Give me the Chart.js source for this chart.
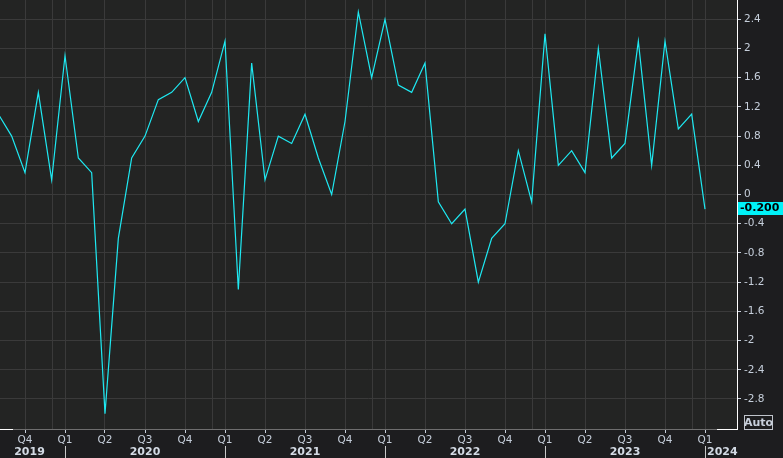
<!DOCTYPE html>
<html>
<head>
<meta charset="utf-8">
<script src="https://cdn.jsdelivr.net/npm/chart.js@4.4.1/dist/chart.umd.min.js"></script>
<style>
html, body { margin: 0; padding: 0; background: #1d1d1f; overflow: hidden; }
canvas { display: block; }
</style>
</head>
<body>
<canvas id="chart" width="783" height="458"></canvas>
<script>
// Monthly values, Aug 2019 .. Jan 2024
const months = [
    '2019-08', '2019-09', '2019-10', '2019-11', '2019-12',
    '2020-01', '2020-02', '2020-03', '2020-04', '2020-05', '2020-06',
    '2020-07', '2020-08', '2020-09', '2020-10', '2020-11', '2020-12',
    '2021-01', '2021-02', '2021-03', '2021-04', '2021-05', '2021-06',
    '2021-07', '2021-08', '2021-09', '2021-10', '2021-11', '2021-12',
    '2022-01', '2022-02', '2022-03', '2022-04', '2022-05', '2022-06',
    '2022-07', '2022-08', '2022-09', '2022-10', '2022-11', '2022-12',
    '2023-01', '2023-02', '2023-03', '2023-04', '2023-05', '2023-06',
    '2023-07', '2023-08', '2023-09', '2023-10', '2023-11', '2023-12',
    '2024-01'
];
const values = [
    1.1, 0.8, 0.3, 1.4, 0.2,
    1.9, 0.5, 0.3, -3.0, -0.6, 0.5,
    0.8, 1.3, 1.4, 1.6, 1.0, 1.4,
    2.1, -1.3, 1.8, 0.2, 0.8, 0.7,
    1.1, 0.5, 0.0, 1.0, 2.5, 1.6,
    2.4, 1.5, 1.4, 1.8, -0.1, -0.4,
    -0.2, -1.2, -0.6, -0.4, 0.6, -0.1,
    2.2, 0.4, 0.6, 0.3, 2.0, 0.5,
    0.7, 2.1, 0.4, 2.1, 0.9, 1.1,
    -0.2
];
const yTicks = [2.4, 2, 1.6, 1.2, 0.8, 0.4, 0, -0.4, -0.8, -1.2, -1.6, -2, -2.4, -2.8];
const years = ['2019', '2020', '2021', '2022', '2023', '2024'];
const lastLabel = '-0.200';

const fontFamily = "'DejaVu Sans', Verdana, sans-serif";
const textColor = '#c6cfdb';
const gridColor = '#3a3a3a';
const lineColor = '#1ee9f2';

// quarter ticks sit on Jan/Apr/Jul/Oct
const quarterIdx = [];
const quarterLabels = [];
months.forEach((m, i) => {
    const mm = parseInt(m.slice(5), 10);
    if ((mm - 1) % 3 === 0) {
        quarterIdx.push(i);
        quarterLabels.push('Q' + ((mm - 1) / 3 + 1));
    }
});
const decIdx = months.map((m, i) => m.endsWith('-12') ? i : -1).filter(i => i >= 0);

const decorations = {
    id: 'decorations',
    beforeDraw(chart) {
        const { ctx, chartArea: a } = chart;
        ctx.save();
        ctx.fillStyle = '#1d1d1f';
        ctx.fillRect(0, 0, chart.width, chart.height);
        ctx.fillStyle = '#232423';
        ctx.fillRect(a.left, a.top, a.right - a.left, a.bottom - a.top);
        ctx.restore();
    },
    beforeDatasetsDraw(chart) {
        // extra grid line on each December
        const { ctx, chartArea: a, scales: { x } } = chart;
        ctx.save();
        ctx.strokeStyle = gridColor;
        ctx.lineWidth = 1;
        decIdx.forEach(i => {
            const px = Math.round(x.getPixelForValue(i)) + 0.5;
            ctx.beginPath();
            ctx.moveTo(px, a.top);
            ctx.lineTo(px, a.bottom);
            ctx.stroke();
        });
        ctx.restore();
    },
    afterDraw(chart) {
        const { ctx, chartArea: a, scales: { x, y } } = chart;
        ctx.save();

        // year labels and separators
        ctx.font = 'bold 11px ' + fontFamily;
        ctx.fillStyle = '#d3dae4';
        ctx.textBaseline = 'middle';
        years.forEach((yr, k) => {
            const idx = months.map((m, i) => m.startsWith(yr) ? i : -1).filter(i => i >= 0);
            const first = idx[0], last = idx[idx.length - 1];
            const x0 = Math.max(a.left, x.getPixelForValue(first));
            if (k === years.length - 1) {
                ctx.textAlign = 'left';
                ctx.fillText(yr, x0 + 2, 452);
            } else {
                const x1 = Math.min(a.right, x.getPixelForValue(last + 1));
                ctx.textAlign = 'center';
                ctx.fillText(yr, (x0 + x1) / 2 - (k === 0 ? 3 : 0), 452);
            }
            if (months[first].endsWith('-01')) {
                const px = Math.round(x.getPixelForValue(first)) + 0.5;
                ctx.strokeStyle = '#c8c8c8';
                ctx.lineWidth = 1;
                ctx.beginPath();
                ctx.moveTo(px, 446);
                ctx.lineTo(px, 458);
                ctx.stroke();
            }
        });

        // white ends of the bottom axis
        ctx.strokeStyle = '#ffffff';
        ctx.lineWidth = 1;
        ctx.beginPath();
        ctx.moveTo(a.left, a.bottom + 0.5);
        ctx.lineTo(a.left + 13, a.bottom + 0.5);
        ctx.moveTo(a.right - 20, a.bottom + 0.5);
        ctx.lineTo(a.right + 0.5, a.bottom + 0.5);
        ctx.stroke();

        // last value tag
        const vy = y.getPixelForValue(values[values.length - 1]);
        ctx.fillStyle = '#00f2f8';
        ctx.fillRect(a.right + 1, Math.round(vy) - 7, chart.width - a.right - 1, 13);
        ctx.fillStyle = '#000000';
        ctx.textAlign = 'left';
        ctx.font = 'bold 11px ' + fontFamily;
        ctx.fillText(lastLabel, a.right + 3, Math.round(vy) - 0.5);

        // Auto button
        ctx.strokeStyle = '#c0c4cc';
        ctx.strokeRect(744.5, 415.5, 28, 14);
        ctx.fillStyle = '#c9d0dc';
        ctx.font = 'bold 11px ' + fontFamily;
        ctx.textAlign = 'center';
        ctx.fillText('Auto', 758.5, 423);
        ctx.restore();
    }
};

new Chart(document.getElementById('chart'), {
    type: 'line',
    data: {
        datasets: [{
            data: values.map((v, i) => ({ x: i, y: v })),
            borderColor: lineColor,
            borderWidth: 1.2,
            pointRadius: 0,
            tension: 0,
            fill: false
        }]
    },
    options: {
        responsive: false,
        animation: false,
        layout: { padding: 0 },
        plugins: {
            legend: { display: false },
            tooltip: { enabled: false }
        },
        scales: {
            x: {
                type: 'linear',
                min: 0.125,
                max: 55.4,
                afterBuildTicks: s => { s.ticks = quarterIdx.map(v => ({ value: v })); },
                afterFit: s => { s.height = 29; s.paddingLeft = 0; s.paddingRight = 0; },
                grid: { color: gridColor, tickColor: textColor, tickLength: 4 },
                border: { color: '#6e6e6e' },
                ticks: {
                    autoSkip: false,
                    maxRotation: 0,
                    padding: 1,
                    color: textColor,
                    font: { family: fontFamily, size: 10.5 },
                    callback: v => quarterLabels[quarterIdx.indexOf(v)]
                }
            },
            y: {
                position: 'right',
                min: -3.211,
                max: 2.664,
                afterBuildTicks: s => { s.ticks = yTicks.map(v => ({ value: v })); },
                afterFit: s => { s.width = 46; s.paddingTop = 0; s.paddingBottom = 0; },
                grid: { color: gridColor, tickColor: textColor, tickLength: 4 },
                border: { color: '#ffffff' },
                ticks: {
                    padding: 3,
                    color: textColor,
                    font: { family: fontFamily, size: 10.5 },
                    callback: v => String(v)
                }
            }
        }
    },
    plugins: [decorations]
});
</script>
</body>
</html>
